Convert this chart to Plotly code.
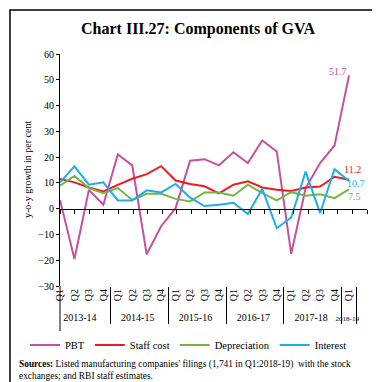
import plotly.graph_objects as go

years = ["2013-14"] * 4 + ["2014-15"] * 4 + ["2015-16"] * 4 + ["2016-17"] * 4 + ["2017-18"] * 4 + ["<span style='font-size:7px'>2018-19</span>"]
quarters = ["Q1", "Q2", "Q3", "Q4"] * 5 + ["Q1"]

pbt = [3.4, -19.5, 7.3, 1.5, 21.0, 16.8, -17.7, -6.8, 0.2, 18.6, 19.2, 16.8, 21.9, 17.7, 26.5, 22.2, -17.5, 8.0, 17.7, 24.5, 51.7]
staff = [11.5, 10.2, 8.2, 6.7, 9.2, 11.6, 13.4, 16.5, 10.9, 9.6, 8.7, 5.9, 9.3, 10.6, 8.2, 7.3, 6.9, 8.2, 8.6, 12.4, 11.2]
dep = [8.9, 12.7, 8.0, 6.0, 8.0, 3.4, 5.8, 5.8, 3.8, 2.8, 6.3, 6.3, 5.0, 9.3, 6.0, 3.2, 6.4, 5.0, 5.6, 4.1, 7.5]
interest = [10.2, 16.4, 9.3, 10.2, 3.2, 3.2, 7.1, 6.3, 9.6, 4.3, 1.0, 1.5, 2.3, -2.1, 7.7, -7.6, -3.4, 14.4, -1.7, 15.3, 10.7]

# name, values, colour, label offset (x, y) in px
series = [
    ("PBT", pbt, "#C4519E", (-11, 4)),
    ("Staff cost", staff, "#ED1C24", (3, 10)),
    ("Depreciation", dep, "#78B443", (5, -7)),
    ("Interest", interest, "#1AAFE6", (7, -2)),
]

FONT = "Liberation Serif"
W, H = 380, 382
L, R, T, B = 52, 21, 46, 104

n = len(quarters)
pw = W - L - R
ph = H - T - B

def px(xp):
    return (xp - L) / pw

def py(yp):
    return (H - B - yp) / ph

fig = go.Figure()
annotations = []
for name, vals, col, (dx, dy) in series:
    fig.add_trace(go.Scatter(
        x=[years, quarters], y=vals, name=name, mode="lines",
        line=dict(color=col, width=2),
    ))
    annotations.append(dict(
        xref="x", yref="y", x=n - 1, y=vals[-1], text=f"{vals[-1]:.1f}", showarrow=False,
        xshift=dx, yshift=dy, font=dict(color=col, size=10, family=FONT),
    ))

# helper trace for zero-line axis with boundary ticks
fig.add_trace(go.Scatter(x=[None], y=[None], xaxis="x2", showlegend=False, hoverinfo="skip"))

annotations += [
    dict(xref="paper", yref="paper", x=px(19), y=py(162), xanchor="center", yanchor="middle",
         textangle=-90, showarrow=False, text="y-o-y growth in per cent",
         font=dict(size=10, family=FONT, color="black")),
    dict(xref="paper", yref="paper", x=px(9), y=py(349), xanchor="left", yanchor="top",
         align="left", showarrow=False,
         text="<b>Sources:</b> Listed manufacturing companies' filings (1,741 in Q1:2018-19)  with the stock<br>exchanges; and RBI staff estimates.",
         font=dict(size=9.4, family=FONT, color="black")),
]

fig.update_layout(
    width=W, height=H, margin=dict(l=L, r=R, t=T, b=B),
    paper_bgcolor="white", plot_bgcolor="white",
    font=dict(family=FONT, size=10, color="black"),
    title=dict(text="<b>Chart III.27: Components of GVA</b>", x=0.5, xref="container",
               y=1 - 20 / H, yref="container", yanchor="middle", xanchor="center",
               font=dict(size=16, family=FONT, color="black")),
    xaxis=dict(type="multicategory", showline=False, ticks="", showgrid=False,
               tickangle=-90, showdividers=True, dividercolor="black", dividerwidth=1,
               tickfont=dict(size=10, family=FONT)),
    xaxis2=dict(overlaying="x", anchor="free", position=1 / 3, range=[-0.5, n - 0.5],
                tickvals=[i - 0.5 for i in range(n + 1)], ticks="outside", ticklen=4,
                tickcolor="black", showticklabels=False, showline=True, linecolor="black",
                linewidth=1, showgrid=False, zeroline=False, side="bottom"),
    yaxis=dict(range=[-30, 60], dtick=10, showline=True, linecolor="black", ticks="outside",
               ticklen=3, tickcolor="black", showgrid=False, zeroline=False,
               tickfont=dict(size=10, family=FONT)),
    legend=dict(orientation="h", x=px(17), xanchor="left", y=py(337), yanchor="middle",
                font=dict(size=10.5, family=FONT), itemwidth=30, traceorder="normal"),
    shapes=[
        dict(type="rect", xref="paper", yref="paper", x0=px(2), x1=px(377), y0=py(377), y1=py(2),
             line=dict(color="black", width=1.5), fillcolor="rgba(0,0,0,0)", layer="below"),
        dict(type="line", xref="paper", yref="paper", x0=0, x1=0, y0=0, y1=py(326),
             line=dict(color="black", width=1)),
    ],
    annotations=annotations,
)

fig.write_html("out.html")
